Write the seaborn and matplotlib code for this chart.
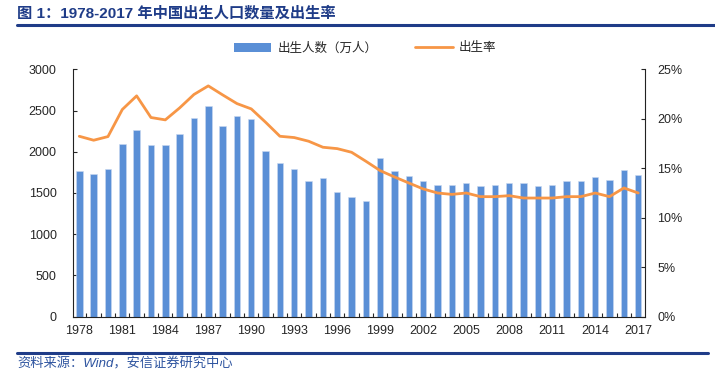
import numpy as np
import pandas as pd
import seaborn as sns
import matplotlib.pyplot as plt
from matplotlib.lines import Line2D
from matplotlib.patches import Patch

# 1978-2017
years = list(range(1978, 2018))
births = [1763, 1731, 1796, 2096, 2262, 2080, 2080, 2222, 2416, 2554,
          2311, 2432, 2400, 2007, 1869, 1796, 1642, 1686, 1516, 1451,
          1403, 1922, 1768, 1707, 1646, 1601, 1601, 1618, 1585, 1601,
          1618, 1618, 1585, 1601, 1646, 1646, 1695, 1662, 1784, 1723]
rate = [18.24, 17.84, 18.21, 20.95, 22.33, 20.14, 19.90, 21.11, 22.47, 23.34,
        22.43, 21.55, 21.01, 19.66, 18.24, 18.11, 17.74, 17.13, 16.99, 16.62,
        15.71, 14.76, 14.12, 13.51, 12.91, 12.50, 12.36, 12.50, 12.13, 12.13,
        12.23, 11.99, 11.99, 11.99, 12.13, 12.13, 12.50, 12.13, 13.01, 12.50]

bar_color = "#5A8FD6"
line_color = "#F79646"
navy = "#1F3C88"

sns.set_style("ticks")
plt.rcParams["font.family"] = ["Liberation Sans", "Noto Sans CJK SC"]

df = pd.DataFrame({"year": [str(y) for y in years], "births": births, "rate": rate})

fig = plt.figure(figsize=(7.15, 3.91), dpi=100)
ax = fig.add_axes([0.1025, 0.1905, 0.7995, 0.6318])

sns.barplot(data=df, x="year", y="births", color=bar_color, saturation=1,
            width=0.45, ax=ax, edgecolor="#C9D9F0", linewidth=0.4)
ax.set_xlim(-0.42, 39.47)
ax.set_ylim(0, 3000)
ax.set_yticks(range(0, 3001, 500))
ax.set_xticks(range(0, 40, 3))
ax.set_xticklabels(df["year"][::3])
ax.set_xticks(np.arange(0.5, 39, 1), minor=True)
ax.tick_params(axis="x", which="major", length=0, pad=6, labelsize=9)
ax.tick_params(axis="x", which="minor", direction="in", length=3, width=0.8)
ax.tick_params(axis="y", direction="in", length=3, width=0.8, pad=12, labelsize=9)
ax.set_xlabel("")
ax.set_ylabel("")

ax2 = ax.twinx()
sns.lineplot(x=df.index, y=df["rate"], ax=ax2, color=line_color, linewidth=2)
ax2.set_ylim(0, 25)
ax2.set_yticks(range(0, 26, 5))
ax2.set_yticklabels([f"{v}%" for v in range(0, 26, 5)])
ax2.tick_params(axis="y", direction="in", length=3, width=0.8, pad=9, labelsize=9)
ax2.set_ylabel("")
ax2.set_xlim(-0.42, 39.47)

for a in (ax, ax2):
    a.spines["top"].set_visible(False)
    for s in ("left", "right", "bottom"):
        a.spines[s].set_color("#222222")
        a.spines[s].set_linewidth(0.8)
ax.spines["right"].set_visible(False)
ax2.spines["left"].set_visible(False)
ax2.spines["bottom"].set_visible(False)

handles = [Patch(facecolor=bar_color, edgecolor="none"),
           Line2D([], [], color=line_color, linewidth=2)]
fig.legend(handles, ["出生人数（万人）", "出生率"], loc="center",
           bbox_to_anchor=(365 / 715, 1 - 48 / 391), ncol=2, frameon=False,
           prop={"family": ["Noto Sans CJK SC"], "size": 9},
           handlelength=3, columnspacing=3.0, handletextpad=0.5)

fig.text(17 / 715, 1 - 13 / 391, "图 1：1978-2017 年中国出生人口数量及出生率",
         fontsize=11, fontweight="bold", color=navy, va="center", ha="left")
fig.add_artist(Line2D([17 / 715, 1], [1 - 25 / 391] * 2, color=navy, linewidth=2.2))
fig.add_artist(Line2D([17 / 715, 708 / 715], [1 - 353 / 391] * 2, color=navy, linewidth=2.2))
fig.text(17 / 715, 1 - 364 / 391, "资料来源：Wind，安信证券研究中心",
         fontsize=9.5, color="#2F55A0", style="italic", va="center", ha="left")

fig.savefig("out.png", dpi=100)
